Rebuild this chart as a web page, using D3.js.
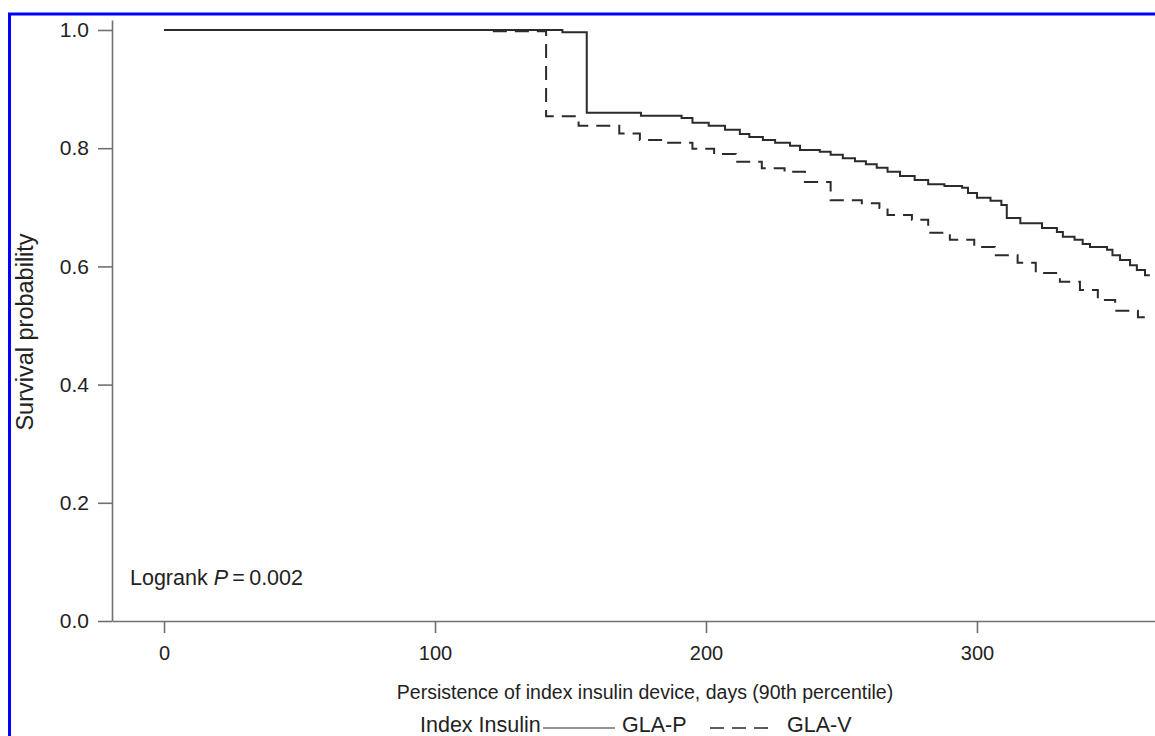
<!DOCTYPE html>
<html>
<head>
<meta charset="utf-8">
<script src="https://cdn.jsdelivr.net/npm/d3@7"></script>
<style>
  body { margin: 0; background: #fff; }
  svg { display: block; font-family: "Liberation Sans", Arial, Helvetica, sans-serif; }
  .tick text { fill: #222; }
</style>
</head>
<body>
<div id="chart"></div>
<script>
// step points: [day, survival probability after that day]
const glaP = [
    [0, 1.0], [147, 0.996], [156, 0.86], [176, 0.855], [191, 0.851], [195, 0.843],
    [201, 0.838], [207, 0.831], [212.5, 0.824], [216, 0.819], [221, 0.814], [225.5, 0.809],
    [231, 0.804], [234.7, 0.797], [242, 0.794], [246, 0.789], [250.5, 0.783], [255, 0.778],
    [259, 0.773], [263, 0.767], [267, 0.76], [271.6, 0.753], [277, 0.746], [282, 0.739],
    [288, 0.736], [294.5, 0.733], [296.7, 0.724], [300, 0.716], [305, 0.711], [309, 0.704],
    [311, 0.682], [316, 0.673], [324, 0.665], [329.5, 0.658], [331.7, 0.65], [336, 0.645],
    [339, 0.638], [341.7, 0.633], [348, 0.628], [350, 0.619], [352.8, 0.611], [356.5, 0.602],
    [359, 0.594], [362, 0.585], [363.8, 0.585]
]
const glaV = [
    [0, 1.0], [120, 0.998], [141, 0.854], [153, 0.838], [168, 0.825], [175.6, 0.814],
    [185, 0.809], [195, 0.799], [203, 0.79], [211, 0.777], [220.6, 0.766], [229, 0.76],
    [236.5, 0.743], [246, 0.712], [257.5, 0.707], [264, 0.699], [267, 0.687], [276, 0.679],
    [282, 0.657], [290, 0.645], [299, 0.633], [306.6, 0.619], [315, 0.606], [321.7, 0.589],
    [330.6, 0.574], [338, 0.56], [344.6, 0.543], [351, 0.525], [359.4, 0.514], [363.8, 0.514]
]
const xTicks = [0, 100, 200, 300]
const yTicks = [0.0, 0.2, 0.4, 0.6, 0.8, 1.0]
const legendItems = [
    { label: "GLA-P", dash: null },
    { label: "GLA-V", dash: "14,8" },
]

const width = 1155
const height = 736
const ink = "#2b2b2b"
const axisInk = "#707070"

const svg = d3.select("#chart")
    .append("svg")
    .attr("width", width)
    .attr("height", height)

// blue frame, only left and top edges fall inside the picture
svg.append("rect")
    .attr("x", 9.5)
    .attr("y", 14)
    .attr("width", 1300)
    .attr("height", 900)
    .attr("fill", "none")
    .attr("stroke", "#0000ff")
    .attr("stroke-width", 3)

const xScale = d3.scaleLinear()
    .domain([-19.2, 365.7])
    .range([112, 1155])

const yScale = d3.scaleLinear()
    .domain([0, 1.0169])
    .range([621, 20])

// axes
const yAxis = svg.append("g")
    .attr("transform", `translate(${xScale.range()[0]},0)`)
    .call(d3.axisLeft(yScale)
        .tickValues(yTicks)
        .tickFormat(d3.format(".1f"))
        .tickSize(14)
        .tickSizeOuter(0)
        .tickPadding(9))
yAxis.selectAll("text").style("font-size", "21px")

const xAxis = svg.append("g")
    .attr("transform", `translate(0,${yScale(0)})`)
    .call(d3.axisBottom(xScale)
        .tickValues(xTicks)
        .tickFormat(d3.format("d"))
        .tickSize(12)
        .tickSizeOuter(0)
        .tickPadding(13))
xAxis.selectAll("text").style("font-size", "20px")

svg.selectAll(".domain, .tick line")
    .attr("stroke", axisInk)
    .attr("stroke-width", 1.6)

// curves
const stepLine = d3.line()
    .x(d => xScale(d[0]))
    .y(d => yScale(d[1]))
    .curve(d3.curveStepAfter)

svg.append("path")
    .datum(glaV)
    .attr("d", stepLine)
    .attr("fill", "none")
    .attr("stroke", ink)
    .attr("stroke-width", 2)
    .attr("stroke-dasharray", legendItems[1].dash)

svg.append("path")
    .datum(glaP)
    .attr("d", stepLine)
    .attr("fill", "none")
    .attr("stroke", ink)
    .attr("stroke-width", 2)

// labels
svg.append("text")
    .attr("transform", "translate(33,332) rotate(-90)")
    .attr("text-anchor", "middle")
    .style("font-size", "23.5px")
    .attr("fill", "#222")
    .text("Survival probability")

svg.append("text")
    .attr("x", 645)
    .attr("y", 699)
    .attr("text-anchor", "middle")
    .style("font-size", "19.5px")
    .attr("fill", "#222")
    .text("Persistence of index insulin device, days (90th percentile)")

const logrank = svg.append("text")
    .attr("x", 130)
    .attr("y", 585)
    .style("font-size", "21.5px")
    .attr("fill", "#222")
logrank.append("tspan").text("Logrank ")
logrank.append("tspan").style("font-style", "italic").text("P")
logrank.append("tspan").text("\u2009=\u20090.002")

// legend
const legend = svg.append("g")
    .style("font-size", "21.5px")
    .attr("fill", "#222")
legend.append("text")
    .attr("x", 420)
    .attr("y", 732)
    .text("Index Insulin")
const legendX = [[543, 615, 622], [710, 770, 787]]
legendItems.forEach((item, i) => {
    legend.append("line")
        .attr("x1", legendX[i][0])
        .attr("x2", legendX[i][1])
        .attr("y1", 728)
        .attr("y2", 728)
        .attr("stroke", i === 0 ? axisInk : ink)
        .attr("stroke-width", 1.6)
        .attr("stroke-dasharray", item.dash)
    legend.append("text")
        .attr("x", legendX[i][2])
        .attr("y", 732)
        .text(item.label)
})
</script>
</body>
</html>
